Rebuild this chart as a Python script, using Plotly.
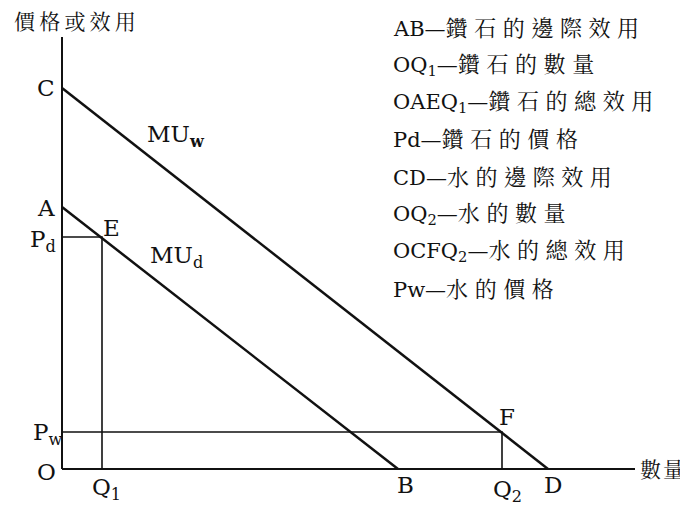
import plotly.graph_objects as go

# quantities on the horizontal axis (origin O = 0)
q1 = 40       # diamond quantity, Q1
b_end = 336   # where MU_d meets the axis, B
q2 = 440      # water quantity, Q2
d_end = 486   # where MU_w meets the axis, D
x_axis_end = 573

# values on the vertical axis
a_top = 262   # A, start of MU_d
c_top = 381   # C, start of MU_w
p_d = 232     # diamond price
p_w = 37      # water price
y_axis_end = 432

legend_items = [
    "AB—鑽石的邊際效用",
    "OQ<sub>1</sub>—鑽石的數量",
    "OAEQ<sub>1</sub>—鑽石的總效用",
    "Pd—鑽石的價格",
    "CD—水的邊際效用",
    "OQ<sub>2</sub>—水的數量",
    "OCFQ<sub>2</sub>—水的總效用",
    "Pw—水的價格",
]

FONT = "DejaVu Serif, Noto Serif CJK TC, Noto Sans CJK TC, serif"
INK = "#111111"


def is_cjk(ch):
    return ord(ch) > 0x2E80


def spaced(s, size=21, gap="\u2009\u200a"):
    # hanzi are loosely tracked in the book
    out = ""
    run = ""
    for ch in s:
        if is_cjk(ch):
            if run:
                run += gap
            run += ch
        else:
            if run:
                out += '<span style="font-size:%dpx">%s</span>' % (size, run)
                run = ""
            out += ch
    if run:
        out += '<span style="font-size:%dpx">%s</span>' % (size, run)
    return out


def seg(x0, y0, x1, y1, w):
    return go.Scatter(x=[x0, x1], y=[y0, y1], mode="lines",
                      line=dict(color=INK, width=w), hoverinfo="skip",
                      showlegend=False)


fig = go.Figure()

# axes
fig.add_trace(seg(0, 0, 0, y_axis_end, 2))
fig.add_trace(seg(0, 0, x_axis_end, 0, 2))

# marginal utility lines
fig.add_trace(seg(0, a_top, b_end, 0, 2.5))
fig.add_trace(seg(0, c_top, d_end, 0, 2.5))

# price / quantity guides
fig.add_trace(go.Scatter(x=[0, q1, q1], y=[p_d, p_d, 0], mode="lines",
                         line=dict(color=INK, width=1.6), hoverinfo="skip",
                         showlegend=False))
fig.add_trace(go.Scatter(x=[0, q2, q2], y=[p_w, p_w, 0], mode="lines",
                         line=dict(color=INK, width=1.6), hoverinfo="skip",
                         showlegend=False))

labels = [
    ("C", -16, c_top, 23),
    ("A", -16, a_top - 1, 23),
    ("P<sub>d</sub>", -19, p_d - 4, 23),
    ("E", q1 + 9, p_d + 9, 23),
    ("MU<sub><b>w</b></sub>", 114, c_top - 48, 23),
    ("MU<sub>d</sub>", 114, a_top - 50, 23),
    ("P<sub>w</sub>", -15, p_w - 2, 23),
    ("O", -16, -3, 23),
    ("Q<sub>1</sub>", q1 + 4, -20, 23),
    ("B", b_end + 7, -16, 23),
    ("Q<sub>2</sub>", q2 + 5, -22, 23),
    ("D", d_end + 5, -16, 23),
    ("F", q2 + 5, p_w + 15, 23),
]
for txt, x, y, size in labels:
    fig.add_annotation(x=x, y=y, text=txt, showarrow=False,
                       font=dict(family=FONT, size=size, color=INK))

# axis titles
fig.add_annotation(x=-50, y=447, text=spaced("價格或效用", 21, "\u2009"),
                   showarrow=False, xanchor="left",
                   font=dict(family=FONT, size=21, color=INK))
fig.add_annotation(x=576, y=-1, text=spaced("數量", 21, "\u200a"),
                   showarrow=False, xanchor="left",
                   font=dict(family=FONT, size=21, color=INK))

# key on the right
for i, item in enumerate(legend_items):
    fig.add_annotation(x=329, y=441 - i * 37.3, text=spaced(item, 22),
                       showarrow=False, xanchor="left",
                       font=dict(family=FONT, size=21, color=INK))

# the page body keeps its 8px margin, so the figure is 8px smaller
fig.update_layout(
    width=680, height=498, autosize=False,
    margin=dict(l=0, r=0, t=0, b=0),
    plot_bgcolor="white", paper_bgcolor="white",
    xaxis=dict(range=[-54, 626], visible=False, fixedrange=True),
    yaxis=dict(range=[-37, 461], visible=False, fixedrange=True),
)

fig.write_html("out.html")
